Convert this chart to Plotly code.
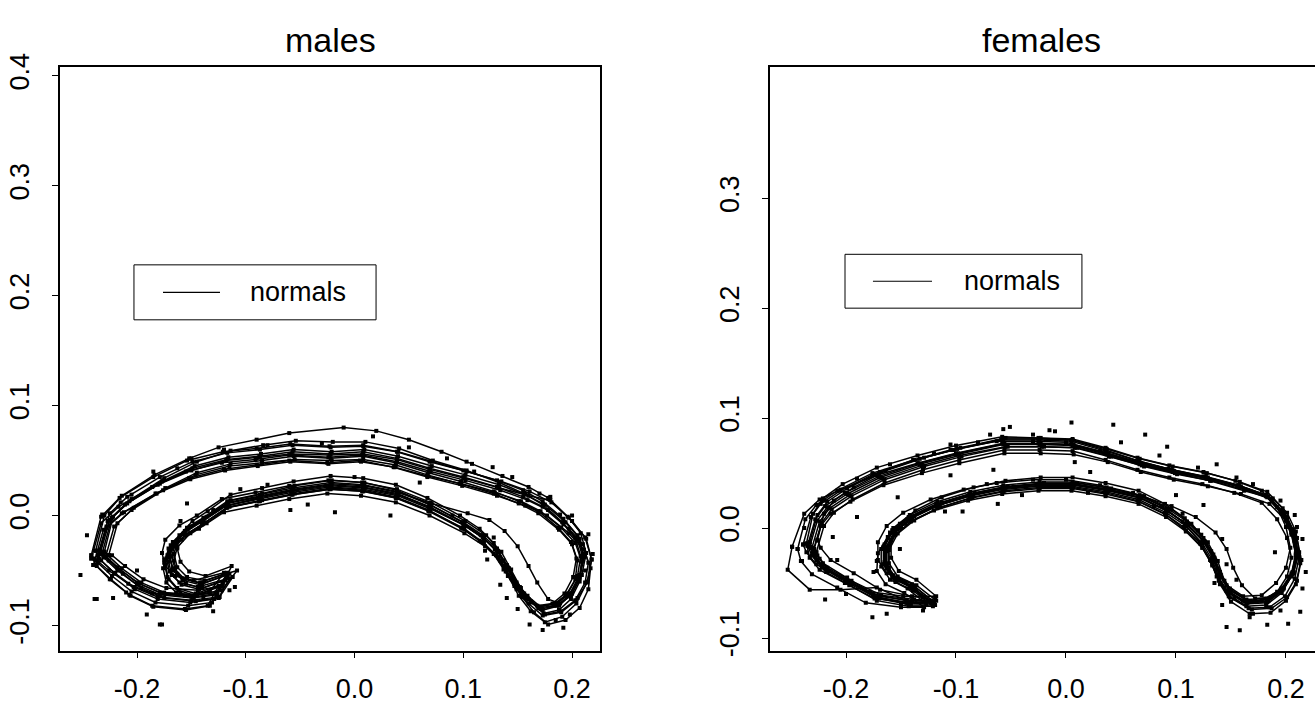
import plotly.graph_objects as go

# ---------------- tick labels ----------------
X_TICKS = [-0.2, -0.1, 0.0, 0.1, 0.2]
X_TICKTEXT = ["-0.2", "-0.1", "0.0", "0.1", "0.2"]
Y_TICKS_M = [-0.1, 0.0, 0.1, 0.2, 0.3, 0.4]
Y_TICKTEXT_M = ["-0.1", "0.0", "0.1", "0.2", "0.3", "0.4"]
Y_TICKS_F = [-0.1, 0.0, 0.1, 0.2, 0.3]
Y_TICKTEXT_F = ["-0.1", "0.0", "0.1", "0.2", "0.3"]
TITLES = ["males", "females"]
LEGEND_LABEL = "normals"

# ---------------- males: outlines (landmarks) ----------------
M0_X = [-0.234,-0.225,-0.209,-0.179,-0.149,-0.117,-0.087,-0.057,-0.022,0.008,0.039,0.069,0.100,0.131,0.155,0.173,0.192,0.205,0.210,0.207,0.198,0.186,0.171,0.159,0.149,0.140,0.131,0.118,0.100,0.069,0.039,0.008,-0.022,-0.057,-0.087,-0.117,-0.139,-0.154,-0.167,-0.170,-0.167,-0.158,-0.142,-0.117,-0.127,-0.149,-0.179,-0.200,-0.218,-0.231]
M0_Y = [-0.035,-0.004,0.011,0.029,0.043,0.051,0.054,0.058,0.056,0.058,0.052,0.043,0.035,0.026,0.017,0.008,-0.008,-0.022,-0.038,-0.056,-0.072,-0.082,-0.085,-0.075,-0.063,-0.047,-0.032,-0.020,-0.008,0.008,0.020,0.026,0.028,0.023,0.017,0.011,-0.004,-0.013,-0.026,-0.038,-0.050,-0.059,-0.063,-0.054,-0.072,-0.075,-0.072,-0.063,-0.050,-0.038]

M1_X = [-0.234,-0.225,-0.209,-0.179,-0.149,-0.117,-0.087,-0.057,-0.022,0.008,0.039,0.069,0.100,0.131,0.155,0.173,0.192,0.205,0.210,0.207,0.198,0.186,0.171,0.159,0.149,0.140,0.131,0.118,0.100,0.069,0.039,0.008,-0.022,-0.057,-0.087,-0.117,-0.139,-0.154,-0.167,-0.170,-0.167,-0.158,-0.142,-0.117,-0.127,-0.149,-0.179,-0.200,-0.218,-0.231]
M1_Y = [-0.031,0.002,0.017,0.035,0.049,0.057,0.060,0.064,0.062,0.063,0.058,0.049,0.041,0.032,0.023,0.013,-0.003,-0.018,-0.035,-0.054,-0.071,-0.080,-0.083,-0.073,-0.061,-0.045,-0.030,-0.018,-0.006,0.010,0.022,0.028,0.030,0.025,0.019,0.013,-0.002,-0.011,-0.024,-0.036,-0.048,-0.057,-0.061,-0.052,-0.070,-0.073,-0.070,-0.061,-0.047,-0.035]

M2_X = [-0.229,-0.221,-0.205,-0.176,-0.146,-0.115,-0.085,-0.055,-0.021,0.008,0.038,0.067,0.097,0.128,0.151,0.169,0.188,0.200,0.205,0.203,0.194,0.183,0.169,0.157,0.147,0.137,0.128,0.115,0.098,0.068,0.038,0.008,-0.021,-0.055,-0.085,-0.115,-0.136,-0.151,-0.163,-0.166,-0.163,-0.155,-0.140,-0.115,-0.125,-0.146,-0.175,-0.196,-0.213,-0.226]
M2_Y = [-0.038,-0.010,0.005,0.023,0.037,0.045,0.048,0.051,0.050,0.051,0.046,0.037,0.029,0.020,0.011,0.002,-0.013,-0.026,-0.041,-0.058,-0.073,-0.082,-0.084,-0.075,-0.064,-0.049,-0.035,-0.023,-0.011,0.005,0.017,0.023,0.025,0.020,0.014,0.008,-0.007,-0.016,-0.029,-0.041,-0.053,-0.062,-0.066,-0.057,-0.075,-0.078,-0.075,-0.066,-0.053,-0.041]

M3_X = [-0.238,-0.230,-0.214,-0.184,-0.152,-0.125,-0.090,-0.060,-0.010,0.020,0.050,0.080,0.108,0.136,0.160,0.178,0.196,0.208,0.213,0.209,0.200,0.188,0.173,0.160,0.150,0.141,0.132,0.119,0.101,0.070,0.040,0.009,-0.022,-0.058,-0.088,-0.118,-0.140,-0.156,-0.169,-0.173,-0.170,-0.161,-0.144,-0.112,-0.124,-0.150,-0.181,-0.203,-0.221,-0.235]
M3_Y = [-0.032,0.000,0.018,0.037,0.052,0.062,0.069,0.075,0.080,0.077,0.069,0.058,0.047,0.036,0.026,0.016,-0.001,-0.016,-0.034,-0.054,-0.071,-0.082,-0.086,-0.076,-0.064,-0.048,-0.033,-0.021,-0.009,0.007,0.019,0.025,0.027,0.022,0.016,0.009,-0.005,-0.014,-0.027,-0.039,-0.051,-0.061,-0.065,-0.056,-0.074,-0.077,-0.074,-0.065,-0.052,-0.039]

M4_X = [-0.242,-0.233,-0.217,-0.186,-0.155,-0.122,-0.091,-0.060,-0.024,0.007,0.039,0.070,0.102,0.134,0.159,0.178,0.197,0.210,0.215,0.212,0.203,0.190,0.175,0.163,0.153,0.144,0.135,0.121,0.102,0.070,0.039,0.007,-0.024,-0.060,-0.091,-0.122,-0.145,-0.161,-0.174,-0.177,-0.174,-0.165,-0.148,-0.120,-0.133,-0.156,-0.186,-0.208,-0.226,-0.239]
M4_Y = [-0.039,-0.007,0.008,0.026,0.040,0.048,0.051,0.055,0.053,0.055,0.049,0.040,0.032,0.023,0.014,0.005,-0.012,-0.026,-0.043,-0.061,-0.077,-0.087,-0.090,-0.079,-0.066,-0.049,-0.033,-0.018,-0.005,0.012,0.024,0.030,0.032,0.027,0.021,0.015,0.000,-0.009,-0.022,-0.034,-0.046,-0.055,-0.059,-0.052,-0.069,-0.073,-0.071,-0.062,-0.050,-0.039]

M5_X = [-0.232,-0.223,-0.207,-0.177,-0.147,-0.116,-0.086,-0.056,-0.021,0.009,0.040,0.071,0.102,0.133,0.157,0.175,0.194,0.207,0.211,0.207,0.199,0.189,0.178,0.168,0.160,0.150,0.138,0.124,0.104,0.071,0.040,0.009,-0.021,-0.056,-0.086,-0.116,-0.138,-0.153,-0.165,-0.168,-0.165,-0.156,-0.140,-0.115,-0.126,-0.148,-0.177,-0.198,-0.216,-0.229]
M5_Y = [-0.034,-0.002,0.013,0.031,0.045,0.053,0.056,0.060,0.058,0.060,0.054,0.045,0.037,0.028,0.019,0.010,-0.006,-0.021,-0.038,-0.057,-0.073,-0.080,-0.076,-0.061,-0.046,-0.028,-0.014,-0.004,0.002,0.011,0.021,0.027,0.029,0.024,0.018,0.012,-0.003,-0.012,-0.025,-0.037,-0.049,-0.058,-0.062,-0.053,-0.071,-0.074,-0.071,-0.062,-0.049,-0.037]

M6_X = [-0.236,-0.227,-0.211,-0.181,-0.150,-0.118,-0.088,-0.058,-0.023,0.008,0.039,0.069,0.101,0.133,0.160,0.180,0.197,0.212,0.218,0.214,0.203,0.190,0.173,0.160,0.149,0.139,0.130,0.117,0.099,0.068,0.038,0.007,-0.023,-0.058,-0.088,-0.118,-0.140,-0.155,-0.168,-0.171,-0.168,-0.159,-0.143,-0.119,-0.129,-0.151,-0.181,-0.202,-0.220,-0.233]
M6_Y = [-0.036,-0.005,0.010,0.028,0.041,0.050,0.053,0.056,0.055,0.056,0.051,0.042,0.034,0.025,0.018,0.014,-0.002,-0.020,-0.040,-0.061,-0.078,-0.088,-0.091,-0.080,-0.067,-0.051,-0.036,-0.024,-0.012,0.004,0.016,0.022,0.024,0.019,0.013,0.007,-0.008,-0.017,-0.030,-0.042,-0.054,-0.063,-0.067,-0.059,-0.076,-0.079,-0.076,-0.067,-0.053,-0.041]

M7_X = [-0.230,-0.222,-0.205,-0.175,-0.145,-0.114,-0.084,-0.054,-0.020,0.010,0.041,0.072,0.103,0.133,0.156,0.173,0.191,0.203,0.208,0.205,0.196,0.184,0.169,0.157,0.147,0.138,0.129,0.116,0.099,0.069,0.039,0.009,-0.021,-0.055,-0.085,-0.114,-0.136,-0.151,-0.163,-0.166,-0.163,-0.154,-0.138,-0.108,-0.122,-0.145,-0.175,-0.196,-0.214,-0.227]
M7_Y = [-0.033,-0.001,0.015,0.034,0.049,0.059,0.064,0.068,0.067,0.067,0.061,0.050,0.041,0.030,0.020,0.010,-0.006,-0.021,-0.037,-0.055,-0.071,-0.080,-0.083,-0.074,-0.062,-0.046,-0.031,-0.018,-0.006,0.010,0.023,0.030,0.032,0.027,0.020,0.014,-0.001,-0.010,-0.023,-0.035,-0.047,-0.056,-0.059,-0.050,-0.068,-0.072,-0.070,-0.061,-0.048,-0.036]

M8_X = [-0.237,-0.228,-0.212,-0.182,-0.151,-0.119,-0.089,-0.059,-0.024,0.006,0.037,0.067,0.098,0.129,0.153,0.171,0.190,0.203,0.209,0.207,0.199,0.188,0.174,0.162,0.152,0.142,0.132,0.119,0.101,0.070,0.040,0.008,-0.023,-0.058,-0.088,-0.118,-0.141,-0.157,-0.171,-0.175,-0.172,-0.163,-0.146,-0.121,-0.131,-0.153,-0.183,-0.205,-0.223,-0.236]
M8_Y = [-0.041,-0.011,0.003,0.020,0.033,0.041,0.045,0.049,0.047,0.049,0.044,0.036,0.029,0.021,0.013,0.004,-0.011,-0.025,-0.042,-0.060,-0.076,-0.086,-0.089,-0.078,-0.065,-0.048,-0.033,-0.021,-0.009,0.006,0.018,0.024,0.026,0.021,0.015,0.009,-0.006,-0.016,-0.030,-0.043,-0.056,-0.066,-0.071,-0.062,-0.079,-0.082,-0.079,-0.069,-0.055,-0.043]

M9_X = [-0.242,-0.233,-0.216,-0.185,-0.154,-0.121,-0.090,-0.059,-0.023,0.008,0.040,0.071,0.103,0.135,0.161,0.181,0.200,0.213,0.218,0.214,0.204,0.191,0.175,0.162,0.151,0.141,0.132,0.119,0.101,0.069,0.039,0.008,-0.022,-0.057,-0.087,-0.117,-0.140,-0.156,-0.170,-0.174,-0.171,-0.162,-0.146,-0.122,-0.133,-0.155,-0.185,-0.206,-0.225,-0.238]
M9_Y = [-0.036,-0.001,0.016,0.035,0.050,0.058,0.061,0.065,0.063,0.064,0.058,0.049,0.040,0.031,0.022,0.012,-0.005,-0.021,-0.040,-0.060,-0.080,-0.092,-0.097,-0.087,-0.073,-0.055,-0.038,-0.025,-0.012,0.004,0.016,0.022,0.024,0.019,0.013,0.007,-0.008,-0.018,-0.032,-0.045,-0.058,-0.068,-0.073,-0.064,-0.082,-0.086,-0.083,-0.073,-0.058,-0.045]

M10_X = [-0.226,-0.218,-0.203,-0.174,-0.145,-0.114,-0.085,-0.056,-0.022,0.008,0.038,0.068,0.098,0.128,0.151,0.169,0.187,0.199,0.204,0.201,0.193,0.182,0.168,0.156,0.146,0.137,0.128,0.115,0.097,0.067,0.038,0.008,-0.022,-0.056,-0.085,-0.114,-0.135,-0.149,-0.161,-0.163,-0.160,-0.152,-0.137,-0.113,-0.122,-0.144,-0.173,-0.194,-0.211,-0.223]
M10_Y = [-0.036,-0.007,0.007,0.025,0.039,0.047,0.050,0.054,0.052,0.054,0.048,0.039,0.031,0.022,0.013,0.004,-0.011,-0.024,-0.039,-0.056,-0.071,-0.080,-0.082,-0.071,-0.058,-0.041,-0.025,-0.012,0.000,0.016,0.028,0.034,0.036,0.031,0.025,0.019,0.004,-0.005,-0.018,-0.030,-0.042,-0.051,-0.055,-0.046,-0.064,-0.068,-0.066,-0.058,-0.046,-0.036]

M11_X = [-0.240,-0.231,-0.214,-0.183,-0.152,-0.120,-0.090,-0.060,-0.025,0.005,0.036,0.067,0.099,0.131,0.157,0.177,0.197,0.211,0.217,0.215,0.207,0.194,0.178,0.165,0.154,0.144,0.134,0.120,0.101,0.069,0.038,0.006,-0.025,-0.060,-0.090,-0.120,-0.143,-0.159,-0.172,-0.176,-0.173,-0.164,-0.148,-0.125,-0.135,-0.156,-0.186,-0.207,-0.224,-0.237]
M11_Y = [-0.045,-0.013,0.002,0.020,0.034,0.042,0.046,0.050,0.048,0.050,0.044,0.035,0.027,0.018,0.009,0.000,-0.016,-0.031,-0.048,-0.067,-0.084,-0.095,-0.099,-0.088,-0.074,-0.057,-0.041,-0.028,-0.016,0.000,0.012,0.018,0.020,0.015,0.009,0.003,-0.012,-0.022,-0.036,-0.048,-0.061,-0.070,-0.074,-0.064,-0.082,-0.085,-0.082,-0.072,-0.058,-0.046]

# males: scattered landmark points lying off the outlines
M_PTS_X = [-0.246,-0.252,-0.239,-0.222,-0.179,-0.191,-0.163,-0.205,-0.232,-0.200,-0.115,-0.105,-0.154,-0.059,-0.043,-0.130,-0.139,-0.237,-0.177,
           0.017,0.127,-0.018,0.033,0.120,0.122,0.134,0.140,0.161,0.173,0.192,0.219,0.215,0.189,0.103,0.180,0.155,0.198,
           -0.185,-0.150,-0.120,-0.080,-0.030,0.050,0.085,0.145,0.170,0.200,0.212,0.205,0.185,0.150,0.128,0.090,0.060,0.000,-0.080,-0.130,
           -0.160,-0.175,-0.160,-0.210,-0.240,-0.228,-0.215,-0.110,-0.125,0.110]
M_PTS_Y = [-0.018,-0.054,-0.076,-0.075,-0.099,-0.090,0.043,0.019,0.001,-0.050,-0.068,0.024,0.011,0.005,0.010,-0.087,-0.075,-0.076,-0.099,
           0.072,0.044,0.003,0.000,-0.032,-0.040,-0.063,-0.075,-0.099,-0.104,-0.102,-0.035,-0.017,0.001,0.049,0.017,-0.072,-0.090,
           0.040,0.052,0.060,0.064,0.066,0.062,0.052,0.035,0.020,0.000,-0.050,-0.075,-0.095,-0.085,-0.020,0.000,0.030,0.035,0.028,0.005,
           -0.005,-0.040,-0.070,-0.070,-0.045,-0.010,0.012,-0.065,-0.075,0.040]

# ---------------- females: outlines (landmarks) ----------------
F0_X = [-0.233,-0.226,-0.217,-0.199,-0.169,-0.133,-0.099,-0.057,-0.024,0.006,0.037,0.067,0.097,0.128,0.158,0.183,0.197,0.206,0.210,0.206,0.197,0.183,0.165,0.149,0.140,0.134,0.125,0.110,0.092,0.067,0.037,0.006,-0.024,-0.057,-0.087,-0.117,-0.142,-0.157,-0.165,-0.165,-0.157,-0.140,-0.122,-0.145,-0.175,-0.199,-0.221,-0.230]
F0_Y = [-0.017,0.007,0.019,0.031,0.046,0.058,0.067,0.076,0.076,0.075,0.067,0.058,0.051,0.045,0.037,0.028,0.013,-0.005,-0.024,-0.042,-0.056,-0.067,-0.068,-0.058,-0.043,-0.027,-0.012,0.003,0.016,0.028,0.035,0.040,0.040,0.037,0.031,0.022,0.010,-0.002,-0.017,-0.033,-0.045,-0.053,-0.068,-0.068,-0.062,-0.047,-0.035,-0.024]

F1_X = [-0.233,-0.226,-0.217,-0.199,-0.169,-0.133,-0.099,-0.057,-0.024,0.006,0.037,0.067,0.097,0.128,0.158,0.183,0.197,0.206,0.210,0.206,0.197,0.183,0.165,0.149,0.140,0.134,0.125,0.110,0.092,0.067,0.037,0.006,-0.024,-0.057,-0.087,-0.117,-0.142,-0.157,-0.165,-0.165,-0.157,-0.140,-0.122,-0.145,-0.175,-0.199,-0.221,-0.230]
F1_Y = [-0.013,0.012,0.024,0.036,0.051,0.063,0.072,0.081,0.081,0.080,0.072,0.063,0.056,0.050,0.042,0.033,0.018,-0.001,-0.021,-0.040,-0.055,-0.065,-0.066,-0.055,-0.040,-0.024,-0.009,0.006,0.018,0.030,0.037,0.042,0.042,0.039,0.033,0.024,0.012,0.000,-0.015,-0.031,-0.043,-0.051,-0.066,-0.066,-0.060,-0.045,-0.032,-0.021]

F2_X = [-0.227,-0.220,-0.211,-0.194,-0.165,-0.130,-0.097,-0.056,-0.024,0.006,0.036,0.065,0.094,0.124,0.153,0.178,0.192,0.201,0.205,0.201,0.192,0.178,0.161,0.146,0.137,0.131,0.122,0.107,0.090,0.065,0.036,0.006,-0.024,-0.056,-0.085,-0.114,-0.138,-0.153,-0.161,-0.161,-0.153,-0.137,-0.119,-0.141,-0.170,-0.194,-0.215,-0.224]
F2_Y = [-0.022,0.002,0.014,0.026,0.041,0.053,0.062,0.071,0.071,0.070,0.062,0.053,0.046,0.040,0.032,0.023,0.008,-0.009,-0.027,-0.044,-0.058,-0.066,-0.066,-0.057,-0.044,-0.029,-0.014,0.001,0.013,0.025,0.032,0.037,0.037,0.034,0.028,0.019,0.007,-0.005,-0.020,-0.036,-0.048,-0.056,-0.070,-0.070,-0.064,-0.051,-0.039,-0.028]

F3_X = [-0.249,-0.238,-0.224,-0.205,-0.172,-0.135,-0.100,-0.058,-0.025,0.005,0.036,0.066,0.096,0.127,0.157,0.182,0.196,0.205,0.209,0.205,0.196,0.182,0.164,0.148,0.139,0.133,0.124,0.109,0.091,0.066,0.036,0.005,-0.025,-0.058,-0.088,-0.118,-0.143,-0.158,-0.166,-0.166,-0.158,-0.141,-0.124,-0.145,-0.172,-0.205,-0.233,-0.253]
F3_Y = [-0.017,0.013,0.026,0.035,0.048,0.059,0.068,0.077,0.077,0.076,0.068,0.059,0.052,0.046,0.038,0.029,0.014,-0.004,-0.023,-0.041,-0.055,-0.064,-0.065,-0.056,-0.042,-0.026,-0.011,0.004,0.016,0.028,0.035,0.040,0.040,0.037,0.031,0.022,0.010,-0.002,-0.017,-0.033,-0.045,-0.053,-0.066,-0.066,-0.054,-0.056,-0.056,-0.038]

F4_X = [-0.239,-0.232,-0.223,-0.205,-0.175,-0.139,-0.105,-0.063,-0.030,0.000,0.031,0.062,0.093,0.125,0.156,0.182,0.197,0.207,0.212,0.208,0.199,0.185,0.166,0.149,0.139,0.132,0.122,0.106,0.087,0.061,0.031,0.000,-0.030,-0.063,-0.093,-0.123,-0.148,-0.163,-0.171,-0.171,-0.163,-0.146,-0.130,-0.148,-0.178,-0.205,-0.227,-0.236]
F4_Y = [-0.015,0.010,0.022,0.034,0.049,0.062,0.071,0.079,0.079,0.078,0.070,0.061,0.054,0.047,0.039,0.030,0.014,-0.005,-0.026,-0.046,-0.062,-0.072,-0.073,-0.063,-0.047,-0.030,-0.013,0.006,0.020,0.032,0.039,0.044,0.044,0.041,0.035,0.026,0.014,0.002,-0.013,-0.029,-0.041,-0.049,-0.063,-0.062,-0.058,-0.045,-0.033,-0.022]

F5_X = [-0.231,-0.224,-0.215,-0.197,-0.167,-0.131,-0.097,-0.055,-0.022,0.008,0.039,0.069,0.099,0.131,0.162,0.188,0.201,0.209,0.212,0.207,0.198,0.186,0.172,0.160,0.152,0.146,0.136,0.118,0.096,0.069,0.039,0.008,-0.022,-0.055,-0.085,-0.115,-0.140,-0.155,-0.163,-0.163,-0.155,-0.138,-0.120,-0.140,-0.170,-0.197,-0.219,-0.228]
F5_Y = [-0.018,0.006,0.018,0.030,0.045,0.057,0.066,0.074,0.074,0.073,0.065,0.057,0.050,0.043,0.034,0.027,0.014,-0.003,-0.022,-0.040,-0.054,-0.063,-0.064,-0.052,-0.036,-0.019,-0.004,0.010,0.020,0.029,0.035,0.040,0.040,0.037,0.030,0.021,0.009,-0.003,-0.018,-0.034,-0.046,-0.053,-0.067,-0.066,-0.062,-0.049,-0.037,-0.026]

F6_X = [-0.229,-0.222,-0.213,-0.195,-0.165,-0.129,-0.095,-0.053,-0.020,0.010,0.041,0.071,0.101,0.132,0.162,0.187,0.201,0.210,0.214,0.210,0.201,0.187,0.169,0.153,0.144,0.138,0.129,0.114,0.096,0.071,0.041,0.010,-0.020,-0.053,-0.083,-0.113,-0.138,-0.153,-0.161,-0.161,-0.153,-0.136,-0.118,-0.138,-0.168,-0.195,-0.217,-0.226]
F6_Y = [-0.019,0.005,0.017,0.029,0.044,0.056,0.065,0.074,0.074,0.073,0.065,0.056,0.049,0.043,0.035,0.026,0.010,-0.009,-0.029,-0.048,-0.063,-0.073,-0.074,-0.064,-0.048,-0.030,-0.013,0.004,0.017,0.029,0.036,0.041,0.041,0.038,0.032,0.023,0.011,-0.001,-0.016,-0.032,-0.044,-0.052,-0.066,-0.065,-0.061,-0.048,-0.036,-0.025]

F7_X = [-0.236,-0.230,-0.221,-0.203,-0.172,-0.135,-0.100,-0.058,-0.025,0.005,0.036,0.066,0.096,0.127,0.157,0.182,0.196,0.205,0.209,0.205,0.196,0.182,0.164,0.148,0.139,0.133,0.124,0.109,0.091,0.066,0.036,0.005,-0.025,-0.058,-0.088,-0.118,-0.144,-0.160,-0.168,-0.168,-0.160,-0.144,-0.127,-0.144,-0.174,-0.201,-0.224,-0.233]
F7_Y = [-0.014,0.013,0.027,0.040,0.055,0.066,0.075,0.083,0.082,0.080,0.071,0.061,0.053,0.047,0.039,0.030,0.015,-0.004,-0.024,-0.043,-0.058,-0.068,-0.069,-0.059,-0.045,-0.029,-0.014,0.002,0.014,0.026,0.033,0.038,0.038,0.035,0.029,0.020,0.008,-0.004,-0.019,-0.035,-0.047,-0.055,-0.069,-0.068,-0.064,-0.050,-0.038,-0.027]

F8_X = [-0.235,-0.228,-0.219,-0.201,-0.170,-0.134,-0.098,-0.056,-0.023,0.007,0.038,0.068,0.098,0.129,0.159,0.184,0.198,0.207,0.211,0.207,0.198,0.184,0.166,0.150,0.141,0.135,0.126,0.111,0.093,0.068,0.038,0.007,-0.023,-0.056,-0.086,-0.116,-0.141,-0.156,-0.164,-0.164,-0.156,-0.140,-0.123,-0.143,-0.173,-0.200,-0.222,-0.231]
F8_Y = [-0.016,0.008,0.020,0.032,0.047,0.059,0.068,0.077,0.077,0.076,0.068,0.059,0.052,0.046,0.038,0.029,0.014,-0.004,-0.023,-0.041,-0.055,-0.066,-0.067,-0.057,-0.043,-0.027,-0.012,0.003,0.015,0.027,0.034,0.039,0.039,0.036,0.030,0.021,0.009,-0.003,-0.018,-0.034,-0.046,-0.054,-0.068,-0.068,-0.063,-0.049,-0.036,-0.025]

F9_X = [-0.230,-0.223,-0.214,-0.196,-0.166,-0.131,-0.097,-0.056,-0.023,0.007,0.038,0.068,0.098,0.129,0.159,0.185,0.200,0.209,0.213,0.209,0.200,0.186,0.167,0.150,0.140,0.133,0.124,0.109,0.091,0.066,0.036,0.006,-0.024,-0.057,-0.087,-0.117,-0.141,-0.155,-0.163,-0.163,-0.155,-0.139,-0.121,-0.143,-0.172,-0.197,-0.218,-0.227]
F9_Y = [-0.021,0.002,0.013,0.024,0.039,0.050,0.059,0.068,0.068,0.067,0.060,0.051,0.044,0.038,0.031,0.022,0.007,-0.012,-0.032,-0.051,-0.066,-0.077,-0.078,-0.067,-0.051,-0.034,-0.018,-0.002,0.012,0.024,0.031,0.036,0.036,0.033,0.027,0.018,0.006,-0.006,-0.021,-0.037,-0.049,-0.057,-0.071,-0.071,-0.066,-0.052,-0.040,-0.029]

F10_X = [-0.244,-0.237,-0.227,-0.208,-0.176,-0.138,-0.102,-0.059,-0.025,0.005,0.036,0.066,0.096,0.127,0.157,0.182,0.196,0.205,0.209,0.205,0.196,0.182,0.164,0.148,0.139,0.133,0.124,0.109,0.091,0.066,0.036,0.005,-0.025,-0.058,-0.089,-0.120,-0.146,-0.162,-0.171,-0.172,-0.164,-0.147,-0.129,-0.150,-0.182,-0.208,-0.231,-0.241]
F10_Y = [-0.019,0.008,0.021,0.034,0.050,0.062,0.071,0.080,0.080,0.079,0.070,0.061,0.053,0.046,0.038,0.029,0.013,-0.006,-0.025,-0.044,-0.059,-0.070,-0.071,-0.062,-0.048,-0.033,-0.018,-0.003,0.010,0.022,0.029,0.034,0.034,0.031,0.025,0.016,0.004,-0.008,-0.023,-0.039,-0.051,-0.059,-0.072,-0.072,-0.068,-0.054,-0.042,-0.030]

F11_X = [-0.226,-0.220,-0.211,-0.193,-0.164,-0.129,-0.096,-0.055,-0.023,0.006,0.036,0.065,0.094,0.125,0.154,0.178,0.192,0.200,0.204,0.200,0.191,0.178,0.161,0.146,0.138,0.132,0.123,0.108,0.090,0.066,0.036,0.006,-0.023,-0.055,-0.084,-0.113,-0.137,-0.151,-0.159,-0.159,-0.152,-0.136,-0.118,-0.140,-0.169,-0.193,-0.214,-0.223]
F11_Y = [-0.011,0.013,0.025,0.037,0.052,0.064,0.073,0.082,0.082,0.081,0.073,0.064,0.057,0.051,0.043,0.034,0.019,0.001,-0.018,-0.036,-0.050,-0.061,-0.062,-0.052,-0.037,-0.021,-0.006,0.009,0.022,0.034,0.041,0.046,0.046,0.043,0.037,0.028,0.016,0.004,-0.011,-0.027,-0.039,-0.047,-0.062,-0.062,-0.056,-0.041,-0.029,-0.018]

# females: scattered landmark points lying off the outlines
F_PTS_X = [-0.057,-0.051,-0.069,-0.105,-0.066,-0.105,-0.153,-0.190,-0.212,-0.208,-0.219,-0.176,-0.163,-0.119,-0.175,-0.151,-0.094,-0.062,-0.015,-0.072,
           0.005,0.043,0.072,0.092,0.137,0.155,0.022,0.008,0.125,0.142,0.146,0.155,0.142,0.146,0.158,0.183,0.202,0.213,0.215,0.211,0.210,0.208,0.190,0.106,0.167,
           -0.190,-0.160,-0.120,-0.080,-0.030,0.050,0.085,0.120,0.170,0.195,0.215,0.218,0.195,0.170,0.135,0.120,0.080,0.020,-0.040,-0.110,
           -0.150,-0.172,-0.150,-0.200,-0.240,-0.238,-0.220,-0.130,0.100,-0.010]
F_PTS_Y = [0.090,0.092,0.085,0.076,0.053,0.048,0.028,0.010,-0.008,-0.029,-0.065,-0.081,-0.078,-0.063,-0.040,-0.019,0.015,0.022,0.089,0.040,
           0.096,0.094,0.085,0.074,0.058,0.046,0.051,0.060,0.021,-0.010,-0.033,-0.047,-0.070,-0.090,-0.093,-0.088,-0.087,-0.076,-0.055,-0.026,0.001,0.012,-0.022,0.013,-0.081,
           0.045,0.058,0.068,0.078,0.085,0.078,0.066,0.055,0.040,0.025,-0.010,-0.040,-0.075,-0.078,-0.050,-0.002,0.020,0.032,0.030,0.015,
           0.000,-0.030,-0.070,-0.060,-0.030,0.000,0.025,-0.075,0.030,0.088]

MALES = [(M0_X, M0_Y), (M1_X, M1_Y), (M2_X, M2_Y), (M3_X, M3_Y), (M4_X, M4_Y), (M5_X, M5_Y),
         (M6_X, M6_Y), (M7_X, M7_Y), (M8_X, M8_Y), (M9_X, M9_Y), (M10_X, M10_Y), (M11_X, M11_Y)]
FEMALES = [(F0_X, F0_Y), (F1_X, F1_Y), (F2_X, F2_Y), (F3_X, F3_Y), (F4_X, F4_Y), (F5_X, F5_Y),
           (F6_X, F6_Y), (F7_X, F7_Y), (F8_X, F8_Y), (F9_X, F9_Y), (F10_X, F10_Y), (F11_X, F11_Y)]

FONT = "Liberation Sans, Arial, Helvetica, sans-serif"
W, H = 1315, 704

fig = go.Figure()


def add_outline(xs, ys, xa, ya):
    fig.add_trace(go.Scatter(
        x=list(xs) + [xs[0]], y=list(ys) + [ys[0]], mode="lines+markers",
        line=dict(color="black", width=1.5),
        marker=dict(symbol="square", size=4, color="black"),
        xaxis=xa, yaxis=ya, showlegend=False, hoverinfo="skip"))


for xs, ys in MALES:
    add_outline(xs, ys, "x", "y")
for xs, ys in FEMALES:
    add_outline(xs, ys, "x2", "y2")

fig.add_trace(go.Scatter(x=M_PTS_X, y=M_PTS_Y, mode="markers",
                         marker=dict(symbol="square", size=4, color="black"),
                         xaxis="x", yaxis="y", showlegend=False, hoverinfo="skip"))
fig.add_trace(go.Scatter(x=F_PTS_X, y=F_PTS_Y, mode="markers",
                         marker=dict(symbol="square", size=4, color="black"),
                         xaxis="x2", yaxis="y2", showlegend=False, hoverinfo="skip"))

# panel geometry (pixels)
L_X0, L_X1 = 60, 600
R_X0 = 770
P_TOP, P_BOT = 55, 660

tickfont = dict(family=FONT, size=27, color="black")
common_x = dict(ticks="outside", ticklen=6, tickwidth=1, tickcolor="black",
                showline=True, linecolor="black", linewidth=1.5, mirror=True,
                showgrid=False, zeroline=False, tickfont=tickfont,
                ticklabelstandoff=7, tickvals=X_TICKS, ticktext=X_TICKTEXT)
common_y = dict(ticks="outside", ticklen=6, tickwidth=1, tickcolor="black",
                showline=True, linecolor="black", linewidth=1.5,
                showgrid=False, zeroline=False, tickfont=tickfont,
                tickangle=-90, ticklabelstandoff=12)

fig.update_layout(
    width=W, height=H, margin=dict(l=0, r=0, t=0, b=0),
    paper_bgcolor="white", plot_bgcolor="white", showlegend=False,
    xaxis=dict(domain=[L_X0 / W, L_X1 / W], range=[-0.2708, 0.2257], anchor="y", **common_x),
    yaxis=dict(domain=[1 - P_BOT / H, 1 - P_TOP / H], range=[-0.1228, 0.4079], anchor="x",
               mirror=True, tickvals=Y_TICKS_M, ticktext=Y_TICKTEXT_M, **common_y),
    xaxis2=dict(domain=[R_X0 / W, 1.0], range=[-0.2691, 0.2264], anchor="y2", **common_x),
    yaxis2=dict(domain=[1 - P_BOT / H, 1 - P_TOP / H], range=[-0.1114, 0.4193], anchor="x2",
                mirror=False, tickvals=Y_TICKS_F, ticktext=Y_TICKTEXT_F, **common_y),
)

# legends (box, line sample, label) in each panel
shapes = [
    dict(type="rect", xref="x", yref="y", x0=-0.2028, x1=0.0198, y0=0.178, y1=0.228,
         line=dict(color="black", width=1)),
    dict(type="line", xref="x", yref="y", x0=-0.1761, x1=-0.1237, y0=0.203, y1=0.203,
         line=dict(color="black", width=1.2)),
    dict(type="rect", xref="x2", yref="y2", x0=-0.2009, x1=0.0145, y0=0.200, y1=0.249,
         line=dict(color="black", width=1)),
    dict(type="line", xref="x2", yref="y2", x0=-0.1755, x1=-0.1218, y0=0.2245, y1=0.2245,
         line=dict(color="black", width=1.2)),
]
fig.update_layout(shapes=shapes)

fig.add_annotation(x=-0.0979, y=0.203, xref="x", yref="y", text=LEGEND_LABEL,
                   showarrow=False, xanchor="left", yanchor="middle",
                   font=dict(family=FONT, size=27, color="black"))
fig.add_annotation(x=-0.0945, y=0.2245, xref="x2", yref="y2", text=LEGEND_LABEL,
                   showarrow=False, xanchor="left", yanchor="middle",
                   font=dict(family=FONT, size=27, color="black"))

# panel titles
fig.add_annotation(x=(L_X0 + L_X1) / 2 / W, y=1 - 27 / H, xref="paper", yref="paper",
                   text=TITLES[0], showarrow=False, xanchor="center", yanchor="middle",
                   font=dict(family=FONT, size=34, color="black"))
fig.add_annotation(x=(R_X0 + 1312) / 2 / W, y=1 - 27 / H, xref="paper", yref="paper",
                   text=TITLES[1], showarrow=False, xanchor="center", yanchor="middle",
                   font=dict(family=FONT, size=34, color="black"))

fig.write_html("out.html")
